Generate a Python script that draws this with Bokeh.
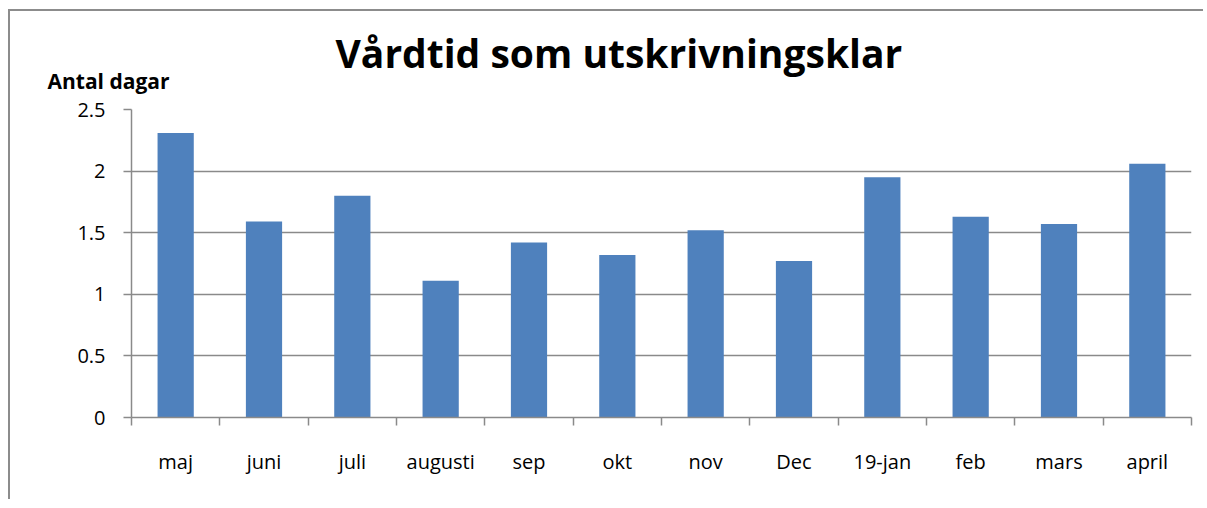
from bokeh.plotting import figure
from bokeh.models import Range1d, FixedTicker, Title, ColumnDataSource
from bokeh.embed import file_html
from bokeh.resources import INLINE

categories = ["maj", "juni", "juli", "augusti", "sep", "okt", "nov", "Dec",
              "19-jan", "feb", "mars", "april"]
values = [2.31, 1.59, 1.80, 1.11, 1.42, 1.32, 1.52, 1.27, 1.95, 1.63, 1.57, 2.06]
y_ticks = [0, 0.5, 1, 1.5, 2, 2.5]
y_tick_labels = ["0", "0.5", "1", "1.5", "2", "2.5"]
title_text = "Vårdtid som utskrivningsklar"
y_label_text = "Antal dagar"

FONT = "Open Sans"
GRID = "#8a8a8a"
BAR = "#4F81BD"

n = len(categories)
centers = [i + 0.5 for i in range(n)]
src = ColumnDataSource(dict(x=centers, top=values, cat=categories))

p = figure(width=1195, height=490, output_backend="svg", toolbar_location=None,
           x_range=Range1d(0, n), y_range=Range1d(0, 2.5),
           min_border_left=121, min_border_right=14, min_border_top=98,
           min_border_bottom=84)
p.styles = {"border-top": "2px solid #8c8c8c", "border-left": "2px solid #8c8c8c",
            "margin-left": "8px", "margin-top": "9px"}
p.outline_line_color = None
p.background_fill_color = "white"
p.border_fill_color = "white"

p.vbar(x="x", top="top", source=src, width=0.41, color=BAR, line_color=None)

# x axis: labels at centres, ticks at category boundaries
xa = p.xaxis[0]
xa.ticker = FixedTicker(ticks=centers, minor_ticks=list(range(n + 1)))
xa.major_label_overrides = {c: lab for c, lab in zip(centers, categories)}
xa.major_tick_line_color = None
xa.major_tick_out = 0
xa.major_tick_in = 0
xa.minor_tick_line_color = GRID
xa.minor_tick_line_width = 1.5
xa.minor_tick_out = 8
xa.minor_tick_in = 0
xa.axis_line_color = GRID
xa.axis_line_width = 1.5
xa.major_label_standoff = 22
xa.major_label_text_font = FONT
xa.major_label_text_font_size = "20px"
xa.major_label_text_color = "black"

ya = p.yaxis[0]
ya.ticker = FixedTicker(ticks=y_ticks)
ya.major_label_overrides = {t: l for t, l in zip(y_ticks, y_tick_labels)}
ya.minor_tick_line_color = None
ya.major_tick_in = 0
ya.major_tick_out = 8
ya.major_tick_line_color = GRID
ya.major_tick_line_width = 1.5
ya.axis_line_color = GRID
ya.axis_line_width = 1.5
ya.major_label_standoff = 18
ya.major_label_text_font = FONT
ya.major_label_text_font_size = "20px"
ya.major_label_text_color = "black"

p.xgrid.visible = False
p.ygrid.grid_line_color = GRID
p.ygrid.grid_line_width = 1.5
p.ygrid.ticker = FixedTicker(ticks=y_ticks)

p.title = Title(text=title_text, align="left", offset=204, standoff=-59, text_font=FONT,
                text_font_style="bold", text_font_size="39px", text_color="black")
p.add_layout(Title(text=y_label_text, align="left", offset=-84, standoff=30, text_font=FONT,
                   text_font_style="bold", text_font_size="21px", text_color="black"),
             "above")

open("out.html", "w").write(file_html(p, INLINE))
